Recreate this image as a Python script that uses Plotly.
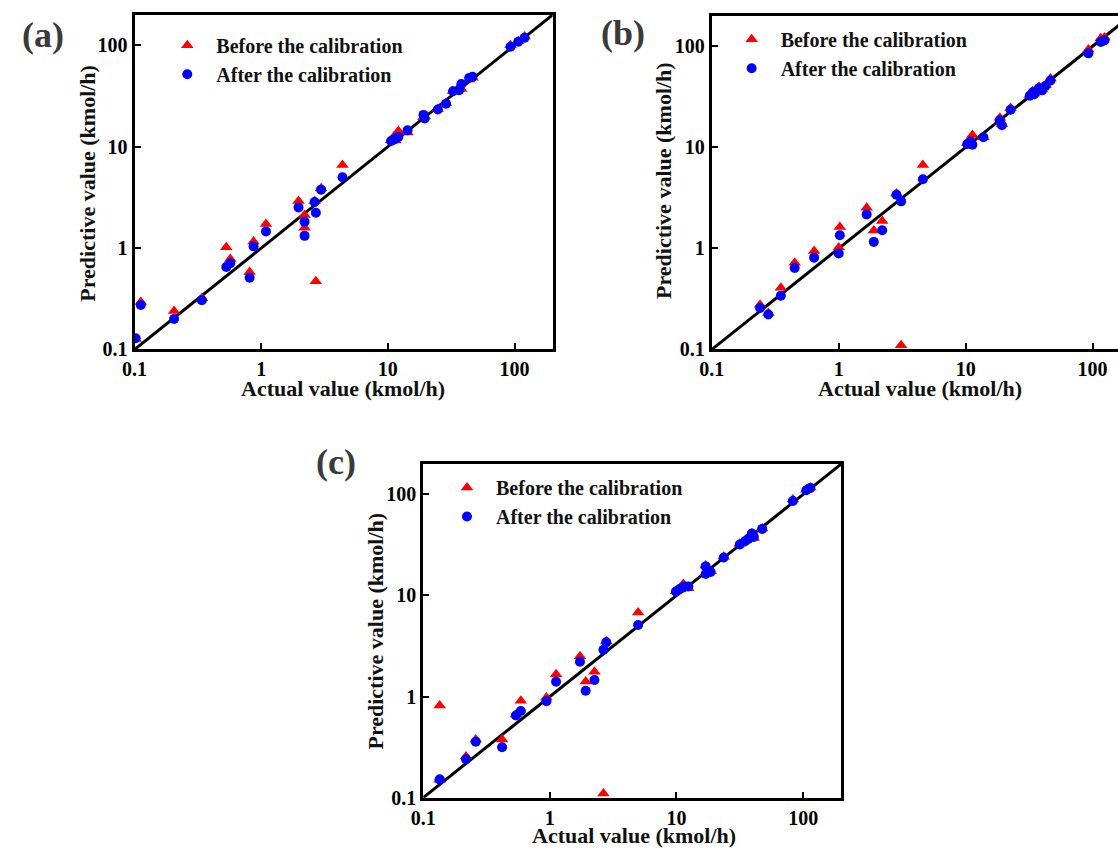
import numpy as np
import plotly.graph_objects as go

W, H = 1118, 860

# ---------------- data ----------------
# Panel (a)
a_actual = [0.102, 0.112, 0.205, 0.34, 0.53, 0.57, 0.81, 0.87, 1.09, 1.97, 2.2, 2.2,
            2.64, 2.7, 2.97, 4.38, 10.6, 11.2, 11.5, 12.1, 14.3, 19.1, 19.5, 24.8,
            28.8, 32.7, 36.5, 38.0, 43.8, 46.6, 93.0, 107.0, 120.0]
a_before = [0.127, 0.294, 0.24, 0.32, 1.02, 0.78, 0.58, 1.16, 1.73, 2.92, 2.12, 1.59,
            2.92, 0.47, 3.9, 6.6, 11.6, 12.7, 11.5, 14.3, 13.8, 19.5, 20.0, 23.5,
            27.0, 35.5, 38.5, 37.0, 46.0, 48.0, 100.0, 110.0, 122.0]
a_after = [0.129, 0.275, 0.20, 0.306, 0.65, 0.71, 0.51, 1.04, 1.46, 2.52, 1.82, 1.32,
           2.85, 2.23, 3.77, 5.0, 11.4, 11.8, 12.0, 12.5, 14.5, 20.6, 19.0, 23.3,
           26.5, 35.2, 36.0, 41.6, 47.6, 49.0, 97.0, 108.6, 119.0]

# Panel (b)
b_actual = [0.24, 0.279, 0.35, 0.45, 0.64, 1.02, 1.0, 1.66, 1.89, 2.2, 2.85, 3.1,
            4.6, 10.3, 10.9, 11.3, 13.8, 18.6, 19.3, 22.6, 32.0, 33.8, 34.7, 37.8,
            40.0, 42.6, 46.6, 92.7, 116.0, 124.0]
b_before = [0.277, 0.23, 0.407, 0.72, 0.94, 1.63, 1.02, 2.52, 1.5, 1.87, 3.5, 0.11,
            6.67, 11.0, 11.8, 13.2, 12.6, 19.6, 17.0, 24.5, 33.0, 36.0, 34.0, 39.8,
            37.5, 41.0, 47.9, 92.7, 120.0, 122.0]
b_after = [0.257, 0.222, 0.34, 0.64, 0.81, 1.35, 0.89, 2.17, 1.16, 1.51, 3.4, 2.92,
           4.84, 10.8, 11.4, 10.6, 12.6, 18.5, 16.5, 23.5, 32.3, 35.0, 33.5, 38.5,
           36.6, 40.6, 45.8, 85.0, 110.0, 114.0]

# Panel (c)
c_actual = [0.135, 0.135, 0.218, 0.26, 0.42, 0.54, 0.59, 0.94, 1.12, 1.73, 1.92, 2.25,
            2.65, 2.79, 4.98, 9.9, 10.6, 11.3, 11.6, 12.4, 17.0, 17.0, 18.6, 23.6,
            31.6, 34.8, 37.0, 39.4, 40.8, 47.5, 83.0, 106.0, 114.0]
c_before = [0.815, 0.15, 0.255, 0.377, 0.377, 0.665, 0.91, 0.98, 1.66, 2.51, 1.41, 1.76,
            0.11, 3.5, 6.8, 11.0, 11.8, 13.0, 12.4, 11.8, 19.8, 16.5, 17.4, 24.2,
            32.5, 35.0, 38.0, 41.0, 37.0, 46.0, 89.0, 111.0, 117.0]
c_after = [0.151, 0.151, 0.24, 0.357, 0.315, 0.65, 0.72, 0.90, 1.40, 2.21, 1.14, 1.46,
           2.91, 3.44, 5.1, 10.96, 11.6, 12.0, 12.3, 12.3, 19.4, 16.3, 17.1, 23.8,
           32.0, 34.5, 36.5, 41.0, 38.0, 45.6, 86.0, 110.0, 116.0]

ref_line = [0.1, 200.0]
tick_vals = [0.1, 1, 10, 100]
tick_text = ["0.1", "1", "10", "100"]
panel_labels = ["(a)", "(b)", "(c)"]
legend_names = ["Before the calibration", "After the calibration"]
x_title = "Actual value (kmol/h)"
y_title = "Predictive value (kmol/h)"

# ---------------- layout helpers ----------------
def px_x(p):
    return p / W

def px_y(p):
    return 1 - p / H

FONT = "Liberation Serif, Times New Roman, serif"

# pixel boxes: (left, right, top, bottom), x range in log units
panels = [
    dict(box=(123, 546, 15, 354), xr=[-1, np.log10(200)], mirror_y=True,
         data=(a_actual, a_before, a_after), lab=(30, 35), xt=(334, 394), yt=(76, 186),
         leg=(147, 26)),
    dict(box=(707, 1118, 16, 354), xr=[-1, 2.2], mirror_y=False,
         data=(b_actual, b_before, b_after), lab=(617, 33), xt=(918, 394), yt=(658, 183),
         leg=(718, 20)),
    dict(box=(415, 838, 470, 808), xr=[-1, np.log10(200)], mirror_y=True,
         data=(c_actual, c_before, c_after), lab=(327, 468), xt=(628, 846), yt=(367, 639),
         leg=(430, 474)),
]

fig = go.Figure()
annotations = []
layout = {}

for i, p in enumerate(panels):
    n = "" if i == 0 else str(i + 1)
    xa, ya = "x" + n, "y" + n
    leg = "legend" + n
    act, bef, aft = p["data"]
    fig.add_trace(go.Scatter(x=ref_line, y=ref_line, mode="lines",
                             line=dict(color="black", width=3), showlegend=False,
                             xaxis=xa, yaxis=ya, hoverinfo="skip"))
    fig.add_trace(go.Scatter(x=act, y=bef, mode="markers", name=legend_names[0],
                             marker=dict(symbol="triangle-up", size=11, color="#FF0000"),
                             xaxis=xa, yaxis=ya, legend=leg))
    fig.add_trace(go.Scatter(x=act, y=aft, mode="markers", name=legend_names[1],
                             marker=dict(symbol="circle", size=10, color="#0000FF"),
                             xaxis=xa, yaxis=ya, legend=leg))
    l, r, t, b = p["box"]
    common = dict(type="log", showgrid=False, zeroline=False, showline=True,
                  linecolor="black", linewidth=3, ticks="inside", ticklen=6,
                  tickwidth=2, tickcolor="black", tickvals=tick_vals, ticktext=tick_text,
                  tickfont=dict(family=FONT, size=20, color="black", weight="bold"))
    layout["xaxis" + n] = dict(common, domain=[px_x(l), px_x(r)], range=p["xr"],
                               anchor=ya, mirror=True)
    layout["yaxis" + n] = dict(common, domain=[px_y(b), px_y(t)],
                               range=[-1, np.log10(200)], anchor=xa,
                               mirror=p["mirror_y"])
    layout[leg] = dict(x=px_x(p["leg"][0]), y=px_y(p["leg"][1]), xanchor="left",
                       yanchor="top", bgcolor="rgba(0,0,0,0)", itemwidth=48,
                       font=dict(family=FONT, size=20, color="#111", weight="bold"),
                       tracegroupgap=0, itemsizing="trace")
    common_ann = dict(xref="paper", yref="paper", showarrow=False,
                      xanchor="center", yanchor="middle")
    annotations.append(dict(common_ann, text=panel_labels[i], x=px_x(p["lab"][0]),
                            y=px_y(p["lab"][1]),
                            font=dict(family=FONT, size=36, color="#3a3a3a", weight="bold")))
    annotations.append(dict(common_ann, text=x_title, x=px_x(p["xt"][0]), y=px_y(p["xt"][1]),
                            font=dict(family=FONT, size=22, color="#111", weight="bold")))
    annotations.append(dict(common_ann, text=y_title, x=px_x(p["yt"][0]), y=px_y(p["yt"][1]),
                            textangle=-90,
                            font=dict(family=FONT, size=22, color="#111", weight="bold")))

fig.update_layout(width=W, height=H, margin=dict(l=0, r=0, t=0, b=0),
                  paper_bgcolor="white", plot_bgcolor="white",
                  annotations=annotations, **layout)

fig.write_html("out.html", config={"displayModeBar": False},
               post_script="document.body.style.margin='0px';document.body.style.overflow='hidden';")
